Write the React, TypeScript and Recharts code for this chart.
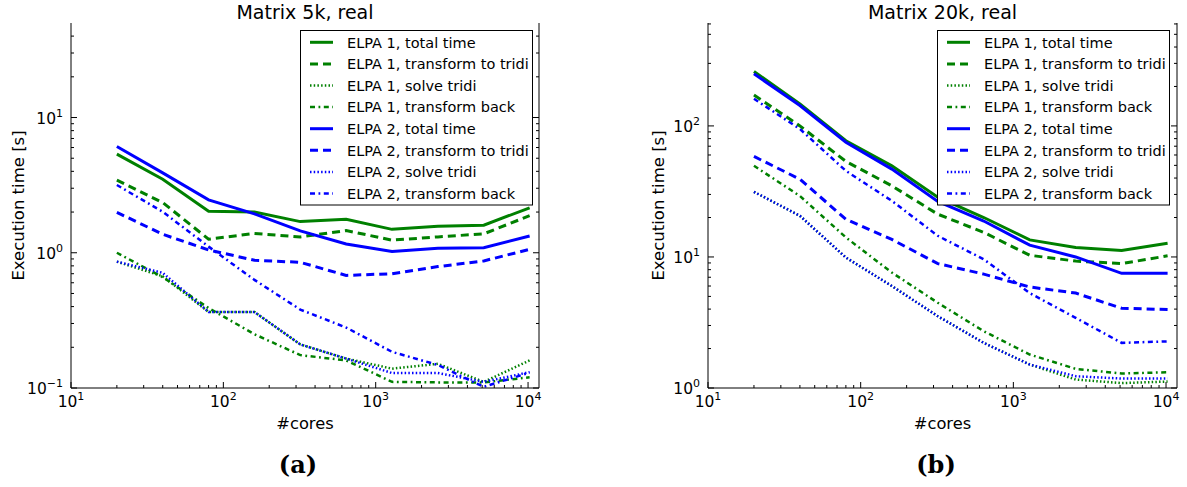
import React from "react";
import { LineChart, Line, XAxis, YAxis } from "recharts";

const GREEN = "#008000";
const BLUE = "#0000ff";
const FONT = "DejaVu Sans, sans-serif";

const cores = [20, 40, 80, 160, 320, 640, 1280, 2560, 5120, 10240];

// Matrix 5k, real
const e1Total5k = [5.36, 3.5, 2.03, 2.0, 1.7, 1.77, 1.49, 1.57, 1.6, 2.15];
const e1Tridi5k = [3.44, 2.35, 1.26, 1.39, 1.31, 1.46, 1.24, 1.31, 1.38, 1.88];
const e1Solve5k = [0.86, 0.67, 0.365, 0.365, 0.21, 0.165, 0.139, 0.151, 0.111, 0.16];
const e1Back5k = [1.0, 0.66, 0.39, 0.25, 0.175, 0.16, 0.111, 0.11, 0.11, 0.12];
const e2Total5k = [6.1, 3.9, 2.46, 1.94, 1.45, 1.16, 1.02, 1.08, 1.09, 1.33];
const e2Tridi5k = [1.99, 1.37, 1.05, 0.88, 0.85, 0.68, 0.7, 0.79, 0.87, 1.06];
const e2Solve5k = [0.86, 0.71, 0.365, 0.365, 0.21, 0.165, 0.129, 0.129, 0.111, 0.131];
const e2Back5k = [3.17, 2.01, 1.11, 0.63, 0.38, 0.28, 0.185, 0.148, 0.102, 0.13];

// Matrix 20k, real
const e1Total20k = [260, 147, 77, 49.6, 28.6, 20, 13.5, 11.8, 11.2, 12.7];
const e1Tridi20k = [172, 100, 53.6, 34.9, 21.2, 15.4, 10.3, 9.3, 8.9, 10.2];
const e1Solve20k = [31.4, 20.6, 9.9, 6.0, 3.53, 2.21, 1.51, 1.16, 1.09, 1.12];
const e1Back20k = [49.6, 29.2, 14.1, 7.6, 4.47, 2.71, 1.8, 1.4, 1.29, 1.32];
const e2Total20k = [250, 143, 75, 46.8, 26.5, 18.8, 12.3, 10.0, 7.5, 7.5];
const e2Tridi20k = [58.5, 39.2, 19.4, 13.6, 8.9, 7.4, 5.9, 5.3, 4.06, 3.97];
const e2Solve20k = [31.4, 20.6, 9.9, 6.0, 3.53, 2.21, 1.51, 1.23, 1.18, 1.18];
const e2Back20k = [161, 94.7, 45.4, 26.8, 14.5, 9.6, 5.3, 3.43, 2.21, 2.27];

const seriesKeys = ["e1Total", "e1Tridi", "e1Solve", "e1Back", "e2Total", "e2Tridi", "e2Solve", "e2Back"];
const seriesNames = [
  "ELPA 1, total time",
  "ELPA 1, transform to tridi",
  "ELPA 1, solve tridi",
  "ELPA 1, transform back",
  "ELPA 2, total time",
  "ELPA 2, transform to tridi",
  "ELPA 2, solve tridi",
  "ELPA 2, transform back",
];
const seriesKinds = ["total", "tridi", "solve", "back", "total", "tridi", "solve", "back"];
const seriesColors = [GREEN, GREEN, GREEN, GREEN, BLUE, BLUE, BLUE, BLUE];

const xTicks = [
  10, 20, 30, 40, 50, 60, 70, 80, 90,
  100, 200, 300, 400, 500, 600, 700, 800, 900,
  1000, 2000, 3000, 4000, 5000, 6000, 7000, 8000, 9000, 10000,
];
const yTicks5k = [
  0.1, 0.2, 0.3, 0.4, 0.5, 0.6, 0.7, 0.8, 0.9,
  1, 2, 3, 4, 5, 6, 7, 8, 9,
  10, 20, 30, 40,
];
const yTicks20k = [
  1, 2, 3, 4, 5, 6, 7, 8, 9,
  10, 20, 30, 40, 50, 60, 70, 80, 90,
  100, 200, 300, 400, 500, 600,
];
const majorTicks = [0.1, 1, 10, 100, 1000, 10000];

const X_DOMAIN = [10, 11800];

const lineStyles: Record<string, { width: number; dash?: string }> = {
  total: { width: 3 },
  tridi: { width: 3, dash: "8 5" },
  solve: { width: 2.5, dash: "1.5 2.2" },
  back: { width: 2.5, dash: "5 3.5 1.8 3.5" },
};

function buildRows(cols: number[][]) {
  return cores.map((c, i) => {
    const row: Record<string, number> = { cores: c };
    seriesKeys.forEach((k, j) => {
      row[k] = cols[j][i];
    });
    return row;
  });
}

const rows5k = buildRows([e1Total5k, e1Tridi5k, e1Solve5k, e1Back5k, e2Total5k, e2Tridi5k, e2Solve5k, e2Back5k]);
const rows20k = buildRows([e1Total20k, e1Tridi20k, e1Solve20k, e1Back20k, e2Total20k, e2Tridi20k, e2Solve20k, e2Back20k]);

const isMajor = (v: number) => majorTicks.some((m) => Math.abs(m - v) / m < 1e-6);
const expLabel = (v: number) => {
  const e = Math.round(Math.log10(v));
  return e < 0 ? `\u2212${-e}` : `${e}`;
};

function PowerLabel({ x, y, v, anchor }: { x: number; y: number; v: number; anchor: string }) {
  return (
    <text x={x} y={y} textAnchor={anchor} fontSize={15.5} fontFamily={FONT} fill="#000">
      10
      <tspan dy={-7} fontSize={11}>
        {expLabel(v)}
      </tspan>
    </text>
  );
}

function BottomTick(p: any) {
  const v = p.payload.value;
  const major = isMajor(v);
  return (
    <g>
      <line x1={p.x} x2={p.x} y1={p.y} y2={p.y - (major ? 6 : 3)} stroke="#000" />
      {major && <PowerLabel x={p.x} y={p.y + 19} v={v} anchor="middle" />}
    </g>
  );
}

function TopTick(p: any) {
  const major = isMajor(p.payload.value);
  return <line x1={p.x} x2={p.x} y1={p.y} y2={p.y + (major ? 6 : 3)} stroke="#000" />;
}

function LeftTick(p: any) {
  const v = p.payload.value;
  const major = isMajor(v);
  return (
    <g>
      <line x1={p.x} x2={p.x + (major ? 6 : 3)} y1={p.y} y2={p.y} stroke="#000" />
      {major && <PowerLabel x={p.x - 8} y={p.y + 6} v={v} anchor="end" />}
    </g>
  );
}

function RightTick(p: any) {
  const major = isMajor(p.payload.value);
  return <line x1={p.x} x2={p.x - (major ? 6 : 3)} y1={p.y} y2={p.y} stroke="#000" />;
}

function Panel({ left, width, rows, yDomain, yTicks, leftWidth, rightWidth }: any) {
  return (
    <div style={{ position: "absolute", left, top: 0 }}>
      <LineChart width={width} height={440} data={rows} margin={{ top: 23, right: 0, bottom: 0, left: 0 }}>
        <XAxis
          xAxisId="b"
          dataKey="cores"
          type="number"
          scale="log"
          domain={X_DOMAIN}
          allowDataOverflow
          ticks={xTicks}
          interval={0}
          tickSize={0}
          tickMargin={0}
          tickLine={false}
          tick={(p: any) => <BottomTick {...p} />}
          height={52}
          stroke="#000"
        />
        <XAxis
          xAxisId="t"
          orientation="top"
          dataKey="cores"
          type="number"
          scale="log"
          domain={X_DOMAIN}
          allowDataOverflow
          ticks={xTicks}
          interval={0}
          tickSize={0}
          tickMargin={0}
          tickLine={false}
          tick={(p: any) => <TopTick {...p} />}
          height={0}
          stroke="#000"
        />
        <YAxis
          yAxisId="l"
          type="number"
          scale="log"
          domain={yDomain}
          allowDataOverflow
          ticks={yTicks}
          interval={0}
          tickSize={0}
          tickMargin={0}
          tickLine={false}
          tick={(p: any) => <LeftTick {...p} />}
          width={leftWidth}
          stroke="#000"
        />
        <YAxis
          yAxisId="r"
          orientation="right"
          type="number"
          scale="log"
          domain={yDomain}
          allowDataOverflow
          ticks={yTicks}
          interval={0}
          tickSize={0}
          tickMargin={0}
          tickLine={false}
          tick={(p: any) => <RightTick {...p} />}
          width={rightWidth}
          stroke="#000"
        />
        {seriesKeys.map((k, i) => {
          const st = lineStyles[seriesKinds[i]];
          return (
            <Line
              key={k}
              xAxisId="b"
              yAxisId="l"
              dataKey={k}
              stroke={seriesColors[i]}
              strokeWidth={st.width}
              strokeDasharray={st.dash}
              dot={false}
              activeDot={false}
              isAnimationActive={false}
            />
          );
        })}
      </LineChart>
    </div>
  );
}

function LegendBox({ left }: { left: number }) {
  return (
    <svg style={{ position: "absolute", left, top: 30 }} width={234} height={177}>
      <rect x={0.5} y={0.5} width={232} height={174.5} fill="#fff" stroke="#000" />
      {seriesKeys.map((k, i) => {
        const cy = 12.3 + i * 21.6;
        const st = lineStyles[seriesKinds[i]];
        return (
          <g key={k}>
            <line
              x1={10}
              x2={33}
              y1={cy}
              y2={cy}
              stroke={seriesColors[i]}
              strokeWidth={st.width}
              strokeDasharray={st.dash}
            />
            <text x={47} y={cy + 5.2} fontSize={14.5} fontFamily={FONT} fill="#000">
              {seriesNames[i]}
            </text>
          </g>
        );
      })}
    </svg>
  );
}

function Labels() {
  return (
    <svg style={{ position: "absolute", left: 0, top: 0 }} width={1187} height={487}>
      <g fontFamily={FONT} fill="#000">
        <text x={305} y={18.5} fontSize={19} textAnchor="middle">
          Matrix 5k, real
        </text>
        <text x={942.5} y={18.5} fontSize={19} textAnchor="middle">
          Matrix 20k, real
        </text>
        <text x={305} y={429} fontSize={16.3} textAnchor="middle">
          #cores
        </text>
        <text x={942.5} y={429} fontSize={16.3} textAnchor="middle">
          #cores
        </text>
        <text transform="translate(24 205.5) rotate(-90)" fontSize={16.5} textAnchor="middle">
          Execution time [s]
        </text>
        <text transform="translate(663.5 205.5) rotate(-90)" fontSize={16.5} textAnchor="middle">
          Execution time [s]
        </text>
      </g>
      <g fontFamily="DejaVu Serif, serif" fontWeight="bold" fontSize={24} fill="#000">
        <text x={298} y={473} textAnchor="middle">
          (a)
        </text>
        <text x={936} y={473} textAnchor="middle">
          (b)
        </text>
      </g>
    </svg>
  );
}

export default function App() {
  return (
    <div style={{ position: "absolute", left: 0, top: 0, width: 1187, height: 487, background: "#fff", overflow: "hidden" }}>
      <Panel left={0} width={560} rows={rows5k} yDomain={[0.1, 50]} yTicks={yTicks5k} leftWidth={71} rightWidth={21} />
      <Panel left={630} width={557} rows={rows20k} yDomain={[1, 610]} yTicks={yTicks20k} leftWidth={78} rightWidth={10} />
      <Labels />
      <LegendBox left={300} />
      <LegendBox left={937} />
    </div>
  );
}
